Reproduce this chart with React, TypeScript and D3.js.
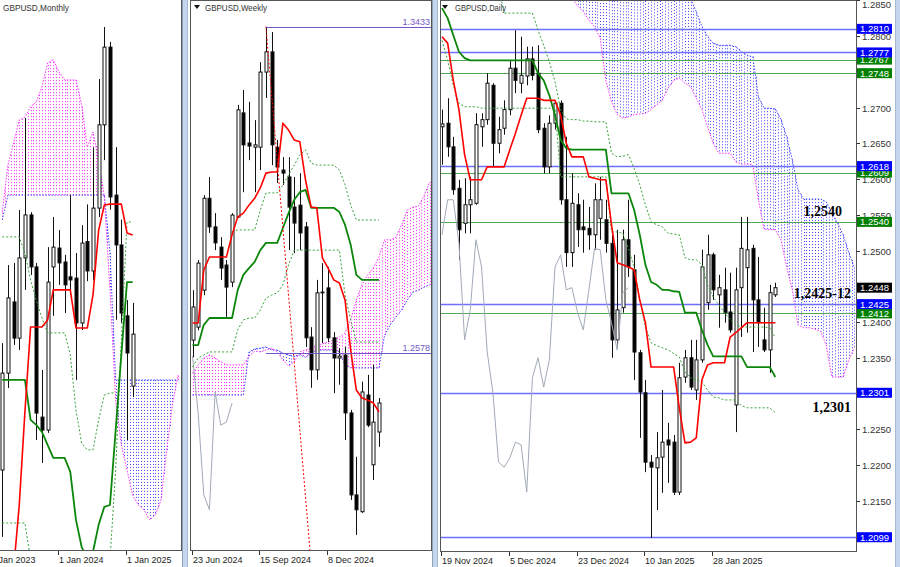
import React from 'react';
import * as d3 from 'd3';

const FONT = 'Liberation Sans, Arial, sans-serif';

// ================= DAILY (GBPUSD, Daily) — bar 0 = 19 Nov 2024 =================
const dailyOpen = [1.2673,1.2678,1.2645,1.2587,1.2538,1.2564,1.2566,1.2673,1.2683,1.2731,
  1.2650,1.2671,1.2697,1.2755,1.2734,1.2744,1.2768,1.2748,1.2671,1.2617,
  1.2678,1.2706,1.2571,1.2497,1.2564,1.2533,1.2531,1.2522,1.2545,1.2543,
  1.2510,1.2375,1.2420,1.2515,1.2473,1.2357,1.2301,1.2204,1.2196,1.2211,
  1.2235,1.2232,1.2162,1.2323,1.2350,1.2305,1.2347,1.2427,1.2494,1.2438,
  1.2445,1.2414,1.2284,1.2448,1.2476,1.2503,1.2431,1.2375,1.2361,1.2438];
const dailyHigh = [1.2697,1.2713,1.2659,1.2599,1.2601,1.2603,1.2692,1.2692,1.2748,1.2734,
  1.2687,1.2710,1.2766,1.2808,1.2799,1.2785,1.2785,1.2787,1.2678,1.2689,
  1.2710,1.2710,1.2659,1.2608,1.2580,1.2571,1.2561,1.2594,1.2603,1.2571,
  1.2522,1.2529,1.2529,1.2571,1.2494,1.2361,1.2319,1.2214,1.2246,1.2305,
  1.2259,1.2242,1.2343,1.2361,1.2375,1.2375,1.2501,1.2522,1.2497,1.2466,
  1.2476,1.2469,1.2476,1.2547,1.2547,1.2508,1.2491,1.2420,1.2452,1.2455];
const dailyLow = [1.2620,1.2631,1.2578,1.2487,1.2524,1.2524,1.2564,1.2645,1.2676,1.2617,
  1.2636,1.2662,1.2689,1.2720,1.2720,1.2731,1.2738,1.2664,1.2608,1.2608,
  1.2669,1.2564,1.2477,1.2477,1.2505,1.2497,1.2501,1.2501,1.2515,1.2497,
  1.2350,1.2364,1.2413,1.2463,1.2319,1.2238,1.2190,1.2098,1.2137,1.2161,
  1.2175,1.2158,1.2158,1.2315,1.2305,1.2291,1.2343,1.2417,1.2431,1.2392,
  1.2399,1.2385,1.2246,1.2379,1.2385,1.2358,1.2365,1.2358,1.2329,1.2435];
const dailyClose = [1.2677,1.2645,1.2585,1.2529,1.2564,1.2571,1.2676,1.2683,1.2734,1.2650,
  1.2669,1.2697,1.2755,1.2738,1.2745,1.2768,1.2745,1.2669,1.2617,1.2678,
  1.2706,1.2571,1.2497,1.2566,1.2529,1.2529,1.2522,1.2571,1.2571,1.2510,
  1.2375,1.2417,1.2515,1.2477,1.2358,1.2302,1.2204,1.2197,1.2210,1.2232,
  1.2228,1.2162,1.2322,1.2350,1.2309,1.2347,1.2477,1.2494,1.2445,1.2448,
  1.2413,1.2389,1.2445,1.2503,1.2501,1.2431,1.2399,1.2361,1.2441,1.2448];
const dailyTenkan = [1.2799,1.2790,1.2738,1.2697,1.2634,1.2599,1.2599,1.2599,1.2617,1.2617,
  1.2617,1.2617,1.2641,1.2664,1.2689,1.2713,1.2713,1.2713,1.2710,1.2710,
  1.2710,1.2689,1.2650,1.2631,1.2631,1.2631,1.2603,1.2601,1.2599,1.2599,
  1.2536,1.2483,1.2480,1.2477,1.2473,1.2431,1.2399,1.2337,1.2337,1.2337,
  1.2337,1.2337,1.2280,1.2231,1.2232,1.2238,1.2319,1.2340,1.2343,1.2343,
  1.2343,1.2379,1.2385,1.2392,1.2399,1.2399,1.2399,1.2399,1.2399,1.2399];
const dailyKijun = [1.2839,1.2825,1.2801,1.2778,1.2769,1.2766,1.2766,1.2766,1.2766,1.2766,
  1.2766,1.2766,1.2766,1.2766,1.2766,1.2766,1.2766,1.2748,1.2738,1.2717,
  1.2689,1.2655,1.2643,1.2641,1.2641,1.2641,1.2641,1.2641,1.2641,1.2641,
  1.2580,1.2580,1.2580,1.2580,1.2557,1.2522,1.2480,1.2456,1.2452,1.2445,
  1.2445,1.2443,1.2442,1.2413,1.2413,1.2413,1.2389,1.2368,1.2352,1.2352,
  1.2352,1.2352,1.2352,1.2352,1.2337,1.2337,1.2337,1.2337,1.2337,1.2323];
const dailyDotUpper = [null,null,null,null,null,null,null,null,null,null,
  1.2870,1.2832,1.2832,1.2832,1.2832,1.2832,1.2832,1.2808,1.2787,1.2764,
  1.2736,1.2697,1.2684,1.2683,1.2683,1.2681,1.2681,1.2680,1.2680,1.2680,
  1.2636,1.2631,1.2632,1.2634,1.2615,1.2592,1.2564,1.2540,1.2536,1.2533,
  1.2524,1.2523,1.2522,1.2490,1.2487,1.2487,1.2480,1.2452,1.2435,1.2424,
  1.2413,1.2403,1.2396,1.2393,1.2393,1.2393,1.2393,1.2393,1.2392,1.2378];
const dailyDotLower = [1.2794,1.2766,1.2731,1.2706,1.2701,1.2701,1.2701,1.2699,1.2699,1.2699,
  1.2699,1.2699,1.2699,1.2699,1.2699,1.2699,1.2699,1.2699,1.2699,1.2699,
  1.2699,1.2603,1.2603,1.2603,1.2603,1.2603,1.2603,1.2603,1.2603,1.2603,
  1.2526,1.2526,1.2524,1.2503,1.2477,1.2431,1.2393,1.2371,1.2367,1.2364,
  1.2361,1.2356,1.2351,1.2330,1.2322,1.2319,1.2316,1.2305,1.2295,1.2294,
  1.2291,1.2291,1.2291,1.2283,1.2280,1.2280,1.2280,1.2280,1.2280,1.2273];
const dailyCloudStart = 22;
const dailySpanA = [1.2960,1.2960,1.2950,1.2950,1.2940,1.2940,1.2930,1.2930,1.2920,1.2920,
  1.2910,1.2910,1.2900,1.2900,1.2895,1.2890,1.2885,1.2880,1.2875,1.2870,
  1.2865,1.2860,1.2852,1.2834,1.2813,1.2799,1.2790,1.2787,1.2787,1.2787,
  1.2785,1.2778,1.2773,1.2771,1.2715,1.2699,1.2699,1.2698,1.2683,1.2659,
  1.2627,1.2585,1.2572,1.2572,1.2572,1.2572,1.2568,1.2552,1.2538,1.2522,
  1.2497,1.2476];
const dailySpanB = [1.2870,1.2852,1.2842,1.2834,1.2822,1.2813,1.2797,1.2738,1.2708,1.2690,
  1.2685,1.2687,1.2690,1.2691,1.2692,1.2697,1.2704,1.2710,1.2727,1.2738,
  1.2741,1.2734,1.2729,1.2713,1.2697,1.2673,1.2650,1.2636,1.2636,1.2636,
  1.2624,1.2621,1.2621,1.2620,1.2571,1.2530,1.2529,1.2529,1.2515,1.2477,
  1.2445,1.2396,1.2392,1.2392,1.2390,1.2387,1.2368,1.2323,1.2323,1.2323,
  1.2347,1.2364];
const dailyDateTicks = [0, 12, 24, 36, 48];
const dailyDateLabels = ['19 Nov 2024', '5 Dec 2024', '23 Dec 2024', '10 Jan 2025', '28 Jan 2025'];
const dailyPriceTicks = [1.2100,1.2150,1.2200,1.2250,1.2300,1.2350,1.2400,1.2450,1.2500,1.2550,1.2600,1.2650,1.2700,1.2750,1.2800,1.2850];
const dailyLevels = [1.2810, 1.2777, 1.2767, 1.2748, 1.2618, 1.2609, 1.2540, 1.2425, 1.2412, 1.2301, 1.2099];
const dailyLevelKinds = ['blue','blue','green','green','blue','green','green','blue','green','blue','blue'];
const dailyLastPrice = 1.2448;
const dailyNotes = ['1,2540', '1,2425-12', '1,2301'];
const dailyNotePrices = [1.2540, 1.2425, 1.2301];

// ================= WEEKLY (GBPUSD, Weekly) — bar 0 = 23 Jun 2024 =================
const weeklyOpen = [1.2611,1.2645,1.2742,1.2983,1.2908,1.2855,1.2808,1.2763,1.2934,1.3207,
  1.3128,1.3117,1.3117,1.3314,1.3367,1.3117,1.3057,1.3039,1.2960,1.2965,
  1.2908,1.2619,1.2533,1.2735,1.2748,1.2617,1.2564,1.2572,1.2420,1.2205,
  1.2161,1.2467,1.2284,1.2370];
const weeklyHigh = [1.2742,1.2821,1.2991,1.3039,1.2944,1.2881,1.2821,1.2944,1.3228,1.3267,
  1.3236,1.3188,1.3340,1.3433,1.3419,1.3136,1.3091,1.3091,1.3039,1.3049,
  1.2921,1.2645,1.2769,1.2813,1.2803,1.2632,1.2590,1.2593,1.2428,1.2305,
  1.2502,1.2520,1.2546,1.2459];
const weeklyLow = [1.2566,1.2637,1.2729,1.2892,1.2847,1.2769,1.2672,1.2750,1.2931,1.2999,
  1.3083,1.2999,1.3057,1.3246,1.3070,1.3023,1.3018,1.2847,1.2839,1.2847,
  1.2593,1.2486,1.2507,1.2603,1.2606,1.2472,1.2494,1.2349,1.2192,1.2100,
  1.2158,1.2383,1.2244,1.2331];
const weeklyClose = [1.2698,1.2813,1.2983,1.2908,1.2866,1.2800,1.2750,1.2939,1.3215,1.3123,
  1.3120,1.3123,1.3314,1.3367,1.3123,1.3065,1.3049,1.2960,1.2918,1.2892,
  1.2617,1.2533,1.2735,1.2737,1.2617,1.2564,1.2569,1.2420,1.2205,1.2166,
  1.2475,1.2388,1.2396,1.2446];
const weeklyTenkan = [1.2656,1.2656,1.2795,1.2829,1.2829,1.2829,1.2829,1.2887,1.2934,1.2944,
  1.2965,1.2983,1.3010,1.3049,1.3052,1.3052,1.3180,1.3162,1.3136,1.3131,
  1.3031,1.2960,1.2958,1.2826,1.2800,1.2769,1.2761,1.2716,1.2585,1.2480,
  1.2459,1.2454,1.2446,1.2423];
const weeklyKijun = [1.2598,1.2598,1.2651,1.2669,1.2669,1.2669,1.2669,1.2669,1.2742,1.2782,
  1.2800,1.2816,1.2847,1.2866,1.2866,1.2866,1.2905,1.2944,1.2979,1.2999,
  1.3005,1.2958,1.2958,1.2958,1.2958,1.2958,1.2947,1.2913,1.2861,1.2782,
  1.2769,1.2769,1.2769,1.2769];
const weeklyDotUpper = [null,null,null,null,null,null,null,1.2895,1.2900,1.2900,
  1.2900,1.2900,1.2952,1.2997,1.2997,1.2997,1.3018,1.3044,1.3070,1.3097,
  1.3110,1.3075,1.3070,1.3070,1.3070,1.3070,1.3057,1.3018,1.2965,1.2926,
  1.2926,1.2926,1.2926,1.2926];
const weeklyDotLower = [1.2541,1.2564,1.2572,1.2580,1.2580,1.2580,1.2580,1.2580,1.2638,1.2664,
  1.2669,1.2669,1.2690,1.2721,1.2729,1.2735,1.2756,1.2808,1.2847,1.2847,
  1.2847,1.2847,1.2847,1.2847,1.2847,1.2847,1.2847,1.2729,1.2664,1.2606,
  1.2606,1.2606,1.2606,1.2606];
const weeklySpanA = [1.2467,1.2467,1.2467,1.2467,1.2467,1.2467,1.2467,1.2467,1.2467,1.2467,
  1.2580,1.2588,1.2590,1.2593,1.2585,1.2585,1.2577,1.2572,1.2569,1.2572,
  1.2566,1.2577,1.2585,1.2585,1.2585,1.2585,1.2580,1.2546,1.2538,1.2538,
  1.2538,1.2538,1.2538,1.2538,1.2624,1.2651,1.2672,1.2690,1.2716,1.2737,
  1.2742,1.2750,1.2756];
const weeklySpanB = [1.2525,1.2546,1.2564,1.2572,1.2564,1.2554,1.2546,1.2546,1.2546,1.2546,
  1.2569,1.2582,1.2580,1.2585,1.2590,1.2580,1.2559,1.2543,1.2554,1.2580,
  1.2585,1.2590,1.2598,1.2601,1.2606,1.2611,1.2619,1.2630,1.2664,1.2716,
  1.2756,1.2782,1.2800,1.2829,1.2874,1.2874,1.2881,1.2913,1.2952,1.2960,
  1.2962,1.2991,1.3026];
const weeklyTrend = [[13, 1.3433], [21, 1.2024]];
const weeklyMarks = [1.3433, 1.2578];
const weeklyMarkFrom = 13;
const weeklyDateTicks = [0, 12, 24];
const weeklyDateLabels = ['23 Jun 2024', '15 Sep 2024', '8 Dec 2024'];

// ================= MONTHLY (GBPUSD, Monthly) — index 0 = Jan 2023, data from Mar 2023 =================
const monthlyStart = 2;
const monthlyOpen = [1.2002,1.2315,1.2545,1.2428,1.2687,1.2826,1.2658,1.2173,1.2131,1.2658,
  1.2719,1.2674,1.2626,1.2622,1.2477,1.2740,1.2645,1.2848,1.3117,1.3368,
  1.2890,1.2729,1.2500,1.2273];
const monthlyHigh = [1.2412,1.2664,1.2671,1.2842,1.3139,1.2835,1.2671,1.2325,1.2722,1.2819,
  1.2777,1.2697,1.2890,1.2703,1.2793,1.2860,1.3044,1.3265,1.3433,1.3385,
  1.3045,1.2811,1.2551,1.2542];
const monthlyLow = [1.1786,1.2267,1.2406,1.2390,1.2584,1.2632,1.2099,1.2025,1.2122,1.2500,
  1.2600,1.2509,1.2567,1.2293,1.2454,1.2612,1.2615,1.2819,1.3003,1.2843,
  1.2487,1.2477,1.2099,1.2238];
const monthlyClose = [1.2315,1.2558,1.2428,1.2687,1.2826,1.2658,1.2186,1.2131,1.2609,1.2722,
  1.2671,1.2600,1.2616,1.2477,1.2735,1.2645,1.2848,1.3117,1.3368,1.2884,
  1.2729,1.2509,1.2380,1.2441];
const monthlyTenkan = [1.1259,1.1453,1.1679,1.1889,1.2190,1.2464,1.2464,1.2464,1.2487,1.2584,
  1.2584,1.2584,1.2584,1.2461,1.2461,1.2461,1.2567,1.2777,1.2858,1.2861,
  1.2861,1.2861,1.2768,1.2761];
const monthlyKijun = [1.2293,1.2293,1.2293,1.2293,1.2293,1.2164,1.2148,1.2125,1.2083,1.2041,
  1.2041,1.2041,1.1996,1.1841,1.1754,1.1712,1.1738,1.1825,1.1883,1.1889,
  1.2131,1.2374,1.2609,1.2609];
const monthlyDotUpper = [1.2755,1.2755,1.2755,1.2755,1.2703,1.2616,1.2551,1.2493,1.2445,1.2445,
  1.2445,1.2445,1.2374,1.2196,1.2089,1.2067,1.2067,1.2164,1.2244,1.2251,
  1.2251,null,null,null];
const monthlyDotLower = [1.1831,1.1831,1.1831,1.1831,1.1831,1.1712,null,null,null,null,
  null,null,null,null,null,null,null,null,null,1.1712,
  1.2002,1.2422,1.2803,1.2803];
const monthlySpanA = [1.2810,1.2890,1.2890,1.2890,1.2890,1.2890,1.2890,1.2890,1.2890,1.2890,
  1.2890,1.2890,1.2890,1.2890,1.2890,1.2890,1.2890,1.2890,1.2890,1.2703,
  1.2293,1.2293,1.2293,1.2293,1.2293,1.2293,1.2293,1.2293,1.2293,1.2293,
  1.2293,1.2293];
const monthlySpanB = [1.2835,1.2987,1.3058,1.3133,1.3142,1.3175,1.3191,1.3239,1.3317,1.3327,
  1.3288,1.3262,1.3262,1.3262,1.3181,1.3045,1.3094,1.3003,1.2884,1.2584,
  1.2228,1.2083,1.2002,1.1921,1.1889,1.1873,1.1841,1.1857,1.1905,1.2067,
  1.2212,1.2309];
const monthlyDateTicks = [0, 12, 24];
const monthlyDateLabels = ['1 Jan 2023', '1 Jan 2024', '1 Jan 2025'];

// ================= helpers =================
const BLUE_DOT = '#4646ff';
const PINK_DOT = '#ff2bff';
const RED = '#ff0000';
const KIJUN = '#0b860b';
const GREEN_DOT = '#3aa23a';
const CHIKOU = '#a2aab8';

const pts = (arr: any[], start = 0) => arr.map((v, k) => [start + k, v]);

function Path({ data, xs, ys, stroke, width = 1, dash }: any) {
  const gen = d3.line<any>()
    .defined((d: any) => d[1] !== null && d[1] !== undefined)
    .x((d: any) => xs(d[0]))
    .y((d: any) => ys(d[1]));
  return <path d={gen(data) || ''} fill="none" stroke={stroke} strokeWidth={width} strokeDasharray={dash} strokeLinejoin="round" />;
}

function Candles({ open, high, low, close, start = 0, xs, ys }: any) {
  return (
    <g>
      {open.map((o: number, k: number) => {
        const cx = Math.round(xs(start + k)) + 0.5;
        const c = close[k];
        const bull = c >= o;
        const yt = ys(Math.max(o, c));
        const yb = ys(Math.min(o, c));
        return (
          <g key={k}>
            <line x1={cx} x2={cx} y1={ys(high[k])} y2={ys(low[k])} stroke="#111" strokeWidth={1} />
            <rect x={cx - 1.5} y={yt} width={3} height={Math.max(yb - yt, 0)} fill={bull ? '#fff' : '#000'} stroke="#111" strokeWidth={1} />
          </g>
        );
      })}
    </g>
  );
}

function Cloud({ spanA, spanB, start, xs, ys }: any) {
  const items: any[] = [];
  for (let k = 0; k < spanA.length; k++) {
    const subs = k < spanA.length - 1 ? [0, 0.5] : [0];
    for (const f of subs) {
      const a = f === 0 ? spanA[k] : (spanA[k] + spanA[k + 1]) / 2;
      const b = f === 0 ? spanB[k] : (spanB[k] + spanB[k + 1]) / 2;
      const x = Math.round(xs(start + k + f)) + 0.5;
      items.push(
        <line key={`${k}-${f}`} x1={x} x2={x} y1={ys(a)} y2={ys(b)}
          stroke={a >= b ? BLUE_DOT : PINK_DOT} strokeWidth={1} strokeDasharray="1 2" />
      );
    }
  }
  return (
    <g>
      {items}
      <Path data={pts(spanA, start)} xs={xs} ys={ys} stroke={BLUE_DOT} dash="1.5 1.5" />
      <Path data={pts(spanB, start)} xs={xs} ys={ys} stroke={PINK_DOT} dash="1.5 1.5" />
    </g>
  );
}

function DateAxis({ ticks, labels, xs, y }: any) {
  return (
    <g>
      {ticks.map((t: number, k: number) => {
        const x = Math.round(xs(t)) - 0.5;
        return (
          <g key={k}>
            <line x1={x} x2={x} y1={y} y2={y + 4} stroke="#333" />
            <text x={x + 0.5} y={y + 12} fontSize={9} fontFamily={FONT} fill="#222">{labels[k]}</text>
          </g>
        );
      })}
    </g>
  );
}

function Triangle({ x, y }: any) {
  return <path d={`M${x},${y} L${x + 6},${y} L${x + 3},${y + 4} Z`} fill="#111" />;
}

function Title({ x, text, width }: any) {
  return (
    <text x={x} y={11} fontSize={9} fontFamily={FONT} fill="#333" textLength={width} lengthAdjust="spacingAndGlyphs">{text}</text>
  );
}

export default function App() {
  // scales
  const dX = d3.scaleLinear().domain([0, 48]).range([442, 713.2]);
  const dY = d3.scaleLinear().domain([1.28, 1.21]).range([36, 536.5]);
  const wX = d3.scaleLinear().domain([0, 24]).range([192.5, 328.1]);
  const wY = d3.scaleLinear().domain([1.3433, 1.2578]).range([26.7, 352.7]);
  const mX = d3.scaleLinear().domain([0, 24]).range([-9.1, 127]);
  const mY = d3.scaleLinear().domain([1.3433, 1.2099]).range([27, 440]);

  const dailyChikou = pts(dailyClose.slice(26));
  const weeklyChikou = pts(weeklyClose.slice(26));

  const levelColor = (k: string) => (k === 'blue' ? '#6e6eff' : '#52a852');
  const boxColor = (k: string) => (k === 'blue' ? '#0000ff' : '#008000');

  const order = dailyLevels.map((_, k) => k).sort((a, b) =>
    (dailyLevelKinds[a] === 'green' ? 0 : 1) - (dailyLevelKinds[b] === 'green' ? 0 : 1));

  // axis labels that would sit fully under a coloured label box are not drawn
  const boxedPrices = [...dailyLevels, dailyLastPrice];
  const visibleTicks = dailyPriceTicks.filter((p) =>
    boxedPrices.every((q) => Math.abs(dY(p) - dY(q)) >= 4));

  return (
    <div style={{ position: 'absolute', left: 0, top: 0, width: 900, height: 567, background: '#fff' }}>
      <svg width={900} height={567} viewBox="0 0 900 567" style={{ display: 'block' }}>
        <defs>
          <clipPath id="clipM"><rect x={0} y={1} width={181} height={549} /></clipPath>
          <clipPath id="clipW"><rect x={191} y={1} width={240} height={549} /></clipPath>
          <clipPath id="clipD"><rect x={441} y={1} width={415} height={550} /></clipPath>
        </defs>
        <rect x={0} y={0} width={900} height={567} fill="#fff" />

        {/* ===== MONTHLY ===== */}
        <g clipPath="url(#clipM)">
          <Cloud spanA={monthlySpanA} spanB={monthlySpanB} start={monthlyStart} xs={mX} ys={mY} />
          <Candles open={monthlyOpen} high={monthlyHigh} low={monthlyLow} close={monthlyClose} start={monthlyStart} xs={mX} ys={mY} />
          <Path data={pts(monthlyDotUpper, monthlyStart)} xs={mX} ys={mY} stroke={GREEN_DOT} dash="2 2" />
          <Path data={pts(monthlyDotLower, monthlyStart)} xs={mX} ys={mY} stroke={GREEN_DOT} dash="2 2" />
          <Path data={pts(monthlyKijun, monthlyStart)} xs={mX} ys={mY} stroke={KIJUN} width={1.8} />
          <Path data={pts(monthlyTenkan, monthlyStart)} xs={mX} ys={mY} stroke={RED} width={1.6} />
        </g>
        <line x1={0} x2={181.5} y1={550.5} y2={550.5} stroke="#555" />
        <line x1={181.5} x2={181.5} y1={0} y2={551} stroke="#555" />
        <Title x={3} text="GBPUSD,Monthly" width={66} />
        <DateAxis ticks={monthlyDateTicks} labels={monthlyDateLabels} xs={mX} y={551} />

        {/* separator */}
        <rect x={182} y={0} width={6} height={567} fill="#c3d6ee" />
        <line x1={182.5} x2={182.5} y1={0} y2={567} stroke="#8fa2ba" />
        <line x1={187.5} x2={187.5} y1={0} y2={567} stroke="#a7b9cf" />

        {/* ===== WEEKLY ===== */}
        <g clipPath="url(#clipW)">
          <Cloud spanA={weeklySpanA} spanB={weeklySpanB} start={0} xs={wX} ys={wY} />
          <Candles open={weeklyOpen} high={weeklyHigh} low={weeklyLow} close={weeklyClose} xs={wX} ys={wY} />
          <Path data={weeklyChikou} xs={wX} ys={wY} stroke={CHIKOU} />
          <Path data={pts(weeklyDotUpper)} xs={wX} ys={wY} stroke={GREEN_DOT} dash="2 2" />
          <Path data={pts(weeklyDotLower)} xs={wX} ys={wY} stroke={GREEN_DOT} dash="2 2" />
          <Path data={pts(weeklyKijun)} xs={wX} ys={wY} stroke={KIJUN} width={1.8} />
          <Path data={pts(weeklyTenkan)} xs={wX} ys={wY} stroke={RED} width={1.6} />
          <Path data={weeklyTrend} xs={wX} ys={wY} stroke={RED} dash="2 2" />
          {weeklyMarks.map((p, k) => (
            <line key={k} x1={wX(weeklyMarkFrom)} x2={431} y1={Math.round(wY(p)) + 0.5} y2={Math.round(wY(p)) + 0.5} stroke="#7357c8" />
          ))}
        </g>
        {weeklyMarks.map((p, k) => (
          <text key={k} x={430} y={wY(p) - 2} textAnchor="end" fontSize={9} fontFamily={FONT} fill="#7357c8">{p.toFixed(4)}</text>
        ))}
        <rect x={190.5} y={0.5} width={241} height={550} fill="none" stroke="#555" />
        <Triangle x={194} y={5} />
        <Title x={205} text="GBPUSD,Weekly" width={62} />
        <DateAxis ticks={weeklyDateTicks} labels={weeklyDateLabels} xs={wX} y={551} />

        {/* separator */}
        <rect x={432} y={0} width={6} height={567} fill="#c3d6ee" />
        <line x1={432.5} x2={432.5} y1={0} y2={567} stroke="#8fa2ba" />
        <line x1={437.5} x2={437.5} y1={0} y2={567} stroke="#a7b9cf" />

        {/* ===== DAILY ===== */}
        <g clipPath="url(#clipD)">
          <Cloud spanA={dailySpanA} spanB={dailySpanB} start={dailyCloudStart} xs={dX} ys={dY} />
          {dailyLevels.map((p, k) => (
            <line key={k} x1={441} x2={856} y1={Math.round(dY(p)) + 0.5} y2={Math.round(dY(p)) + 0.5}
              stroke={levelColor(dailyLevelKinds[k])} strokeWidth={dailyLevelKinds[k] === 'blue' ? 1.6 : 1.2} />
          ))}
          <Candles open={dailyOpen} high={dailyHigh} low={dailyLow} close={dailyClose} xs={dX} ys={dY} />
          <Path data={dailyChikou} xs={dX} ys={dY} stroke={CHIKOU} />
          <Path data={pts(dailyDotUpper)} xs={dX} ys={dY} stroke={GREEN_DOT} dash="2 2" />
          <Path data={pts(dailyDotLower)} xs={dX} ys={dY} stroke={GREEN_DOT} dash="2 2" />
          <Path data={pts(dailyKijun)} xs={dX} ys={dY} stroke={KIJUN} width={1.8} />
          <Path data={pts(dailyTenkan)} xs={dX} ys={dY} stroke={RED} width={1.6} />
        </g>
        <rect x={440.5} y={0.5} width={416} height={551} fill="none" stroke="#555" />
        <Triangle x={442} y={5} />
        <Title x={455} text="GBPUSD,Daily" width={51} />
        <DateAxis ticks={dailyDateTicks} labels={dailyDateLabels} xs={dX} y={552} />

        {/* price axis */}
        {visibleTicks.map((p, k) => {
          const y = Math.round(dY(p)) + 0.5;
          return (
            <g key={k}>
              <line x1={856.5} x2={860} y1={y} y2={y} stroke="#333" />
              <text x={862} y={Math.max(y + 3.5, 8)} fontSize={9.5} fontFamily={FONT} fill="#333">{p.toFixed(4)}</text>
            </g>
          );
        })}
        {order.map((k) => {
          const y = dY(dailyLevels[k]);
          return (
            <g key={k}>
              <rect x={857} y={y - 5} width={35} height={10} fill={boxColor(dailyLevelKinds[k])} />
              <text x={860} y={y + 3.5} fontSize={9.5} fontFamily={FONT} fill="#fff">{dailyLevels[k].toFixed(4)}</text>
            </g>
          );
        })}
        <rect x={857} y={dY(dailyLastPrice) - 5} width={35} height={10} fill="#000" />
        <text x={860} y={dY(dailyLastPrice) + 3.5} fontSize={9.5} fontFamily={FONT} fill="#fff">{dailyLastPrice.toFixed(4)}</text>

        {/* annotations */}
        <text x={842} y={dY(dailyNotePrices[0]) - 6} textAnchor="end" fontSize={14} fontWeight="bold" fontFamily="Liberation Serif, Times New Roman, serif" fill="#000">{dailyNotes[0]}</text>
        <text x={851} y={dY(dailyNotePrices[1]) - 6} textAnchor="end" fontSize={14} fontWeight="bold" fontFamily="Liberation Serif, Times New Roman, serif" fill="#000">{dailyNotes[1]}</text>
        <text x={851} y={dY(dailyNotePrices[2]) + 19} textAnchor="end" fontSize={14} fontWeight="bold" fontFamily="Liberation Serif, Times New Roman, serif" fill="#000">{dailyNotes[2]}</text>

        <rect x={895} y={0} width={5} height={567} fill="#c3d6ee" />
        <line x1={895.5} x2={895.5} y1={0} y2={567} stroke="#a7b9cf" />
      </svg>
    </div>
  );
}
